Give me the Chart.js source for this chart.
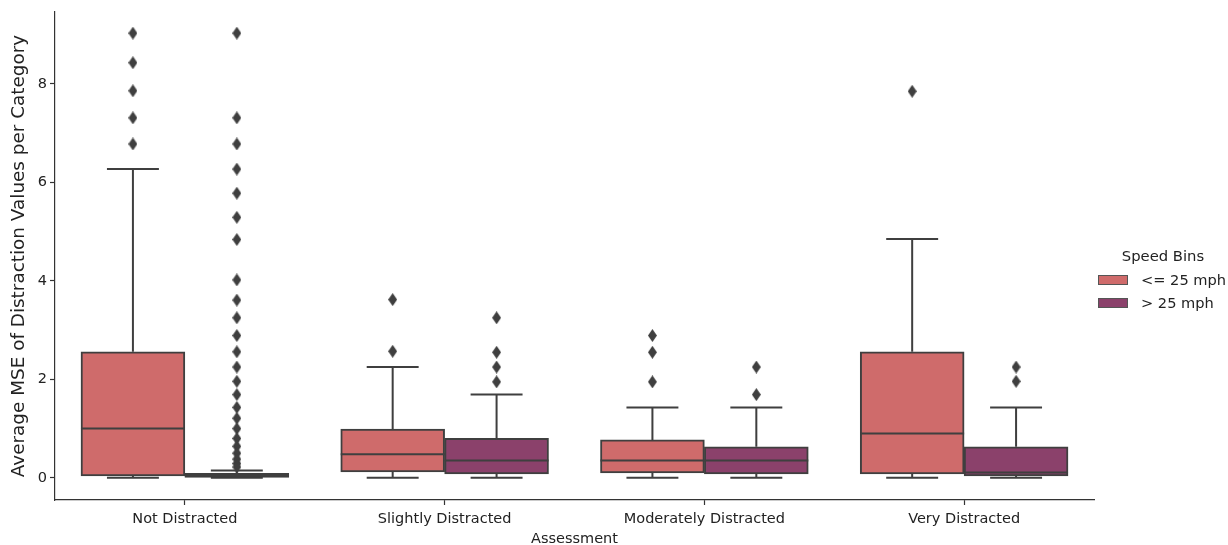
<!DOCTYPE html>
<html>
<head>
<meta charset="utf-8">
<script src="https://cdn.jsdelivr.net/npm/chart.js@4.4.0/dist/chart.umd.min.js"></script>
<style>
  body { margin: 0; background: #fff; }
  #wrap { position: relative; width: 1228px; height: 545px; font-family: "DejaVu Sans", sans-serif; color: #222; }
  #legend { position: absolute; left: 1094px; top: 247px; width: 134px; }
  #legend .title { text-align: center; font-size: 14.8px; padding-left: 4px; margin-bottom: 4px; }
  #legend .item { display: flex; align-items: center; height: 23px; font-size: 14.6px; white-space: nowrap; }
  #legend .swatch { width: 30px; height: 10px; margin: 0 13px 0 4px; border: 1px solid #555; box-sizing: border-box; flex: none; }
</style>
</head>
<body>
<div id="wrap">
  <canvas id="boxChart" width="1228" height="545"></canvas>
  <div id="legend"></div>
</div>
<script>
const categories = ['Not Distracted', 'Slightly Distracted', 'Moderately Distracted', 'Very Distracted'];
const seriesNames = ['<= 25 mph', '> 25 mph'];
const seriesColors = ['#cf6b6b', '#8b416b'];
const yTicks = [0, 2, 4, 6, 8];

// box summaries, one value per category
const slowLow = [0.0, 0.0, 0.0, 0.0];
const slowQ1 = [0.04, 0.12, 0.10, 0.08];
const slowMedian = [1.0, 0.48, 0.35, 0.90];
const slowQ3 = [2.56, 0.99, 0.77, 2.56];
const slowHigh = [6.27, 2.25, 1.43, 4.85];

const fastLow = [0.0, 0.0, 0.0, 0.0];
const fastQ1 = [0.0, 0.08, 0.08, 0.04];
const fastMedian = [0.04, 0.35, 0.35, 0.11];
const fastQ3 = [0.09, 0.80, 0.63, 0.63];
const fastHigh = [0.15, 1.69, 1.43, 1.43];

// fliers
const slowOutliers = [
  [9.03, 8.43, 7.86, 7.31, 6.78],
  [3.62, 2.57],
  [2.89, 2.55, 1.95],
  [7.85]
];
const fastOutliers = [
  [9.03, 7.31, 6.78, 6.27, 5.78, 5.29, 4.84, 4.02, 3.61, 3.25, 2.89, 2.56, 2.25, 1.96, 1.69, 1.43, 1.21, 1.0, 0.80, 0.64, 0.50, 0.38, 0.29, 0.22],
  [3.25, 2.55, 2.25, 1.95],
  [2.25, 1.69],
  [2.25, 1.96]
];

const lineColor = '#3f3f3f';
const fontFamily = '"DejaVu Sans", sans-serif';
const lw = 2;
const hueShift = 0.2;

// thin diamond marker like matplotlib 'd'
const diamond = document.createElement('canvas');
diamond.width = 9;
diamond.height = 13;
const dctx = diamond.getContext('2d');
dctx.fillStyle = lineColor;
dctx.beginPath();
dctx.moveTo(4.5, 0);
dctx.lineTo(9, 6.5);
dctx.lineTo(4.5, 13);
dctx.lineTo(0, 6.5);
dctx.closePath();
dctx.fill();

const summaries = [
  { low: slowLow, med: slowMedian, high: slowHigh, q3: slowQ3, q1: slowQ1 },
  { low: fastLow, med: fastMedian, high: fastHigh, q3: fastQ3, q1: fastQ1 }
];

function flierPoints(list, shift) {
  let pts = [];
  list.forEach((vals, i) => {
    vals.forEach(v => pts.push({ x: i + shift, y: v }));
  });
  return pts;
}

function boxData(q1, q3, shift) {
  return categories.map((c, i) => ({ x: i + shift, y: [q1[i], q3[i]] }));
}

// whiskers, caps and medians, placed with the chart's own scales
const boxParts = {
  id: 'boxParts',
  beforeDatasetsDraw(chart) {
    const ctx = chart.ctx;
    const y = chart.scales.y;
    ctx.save();
    ctx.strokeStyle = lineColor;
    ctx.lineWidth = lw;
    summaries.forEach((s, d) => {
      const meta = chart.getDatasetMeta(d);
      meta.data.forEach((bar, i) => {
        const cx = bar.x;
        const half = bar.width / 4;
        ctx.beginPath();
        ctx.moveTo(cx, y.getPixelForValue(s.q3[i]));
        ctx.lineTo(cx, y.getPixelForValue(s.high[i]));
        ctx.moveTo(cx - half, y.getPixelForValue(s.high[i]));
        ctx.lineTo(cx + half, y.getPixelForValue(s.high[i]));
        ctx.moveTo(cx, y.getPixelForValue(s.q1[i]));
        ctx.lineTo(cx, y.getPixelForValue(s.low[i]));
        ctx.moveTo(cx - half, y.getPixelForValue(s.low[i]));
        ctx.lineTo(cx + half, y.getPixelForValue(s.low[i]));
        ctx.stroke();
      });
    });
    ctx.restore();
  },
  afterDatasetsDraw(chart) {
    const ctx = chart.ctx;
    const y = chart.scales.y;
    ctx.save();
    ctx.strokeStyle = lineColor;
    ctx.lineWidth = lw;
    summaries.forEach((s, d) => {
      const meta = chart.getDatasetMeta(d);
      meta.data.forEach((bar, i) => {
        const py = y.getPixelForValue(s.med[i]);
        ctx.beginPath();
        ctx.moveTo(bar.x - bar.width / 2, py);
        ctx.lineTo(bar.x + bar.width / 2, py);
        ctx.stroke();
      });
    });
    ctx.restore();
  }
};

const ctx = document.getElementById('boxChart');

new Chart(ctx, {
  type: 'bar',
  data: {
    labels: categories,
    datasets: [
      {
        label: seriesNames[0],
        xAxisID: 'xo',
        grouped: false,
        data: boxData(slowQ1, slowQ3, -hueShift),
        backgroundColor: seriesColors[0],
        borderColor: lineColor,
        borderWidth: lw,
        borderSkipped: false,
        categoryPercentage: 1.0,
        barPercentage: 1.0
      },
      {
        label: seriesNames[1],
        xAxisID: 'xo',
        grouped: false,
        data: boxData(fastQ1, fastQ3, hueShift),
        backgroundColor: seriesColors[1],
        borderColor: lineColor,
        borderWidth: lw,
        borderSkipped: false,
        categoryPercentage: 1.0,
        barPercentage: 1.0
      },
      {
        type: 'scatter',
        label: 'slow fliers',
        xAxisID: 'xo',
        data: flierPoints(slowOutliers, -hueShift),
        pointStyle: diamond,
        pointRadius: 5
      },
      {
        type: 'scatter',
        label: 'fast fliers',
        xAxisID: 'xo',
        data: flierPoints(fastOutliers, hueShift),
        pointStyle: diamond,
        pointRadius: 5
      }
    ]
  },
  options: {
    responsive: false,
    animation: false,
    events: [],
    layout: { padding: { top: 12, right: 134, left: 0, bottom: 0 } },
    plugins: {
      legend: { display: false },
      tooltip: { enabled: false }
    },
    scales: {
      x: {
        type: 'category',
        offset: true,
        grid: { display: true, drawOnChartArea: false, offset: false, tickLength: 5, color: '#333', tickWidth: 1.2 },
        border: { display: true, color: '#333', width: 1.2 },
        ticks: { color: '#222', font: { family: fontFamily, size: 14.5 }, padding: 6 },
        title: { display: true, text: 'Assessment', color: '#222', font: { family: fontFamily, size: 14.5 }, padding: { top: 0, bottom: -3 } },
        afterFit(scale) { scale.height = 45; }
      },
      xo: {
        type: 'linear',
        display: false,
        offset: false,
        min: -0.5,
        max: 3.5,
        afterBuildTicks(scale) { scale.ticks = [{ value: -0.5 }, { value: 3.5 }]; }
      },
      y: {
        min: -0.45,
        max: 9.46,
        afterBuildTicks(scale) { scale.ticks = yTicks.map(v => ({ value: v })); },
        grid: { display: true, drawOnChartArea: false, tickLength: 5, color: '#333', tickWidth: 1.2 },
        border: { display: true, color: '#333', width: 1.2 },
        ticks: { color: '#222', font: { family: fontFamily, size: 14.5 }, padding: 3 },
        title: { display: true, text: 'Average MSE of Distraction Values per Category', color: '#222', font: { family: fontFamily, size: 18.4 }, padding: { top: 8, bottom: 0 } },
        afterFit(scale) { scale.width = 55; }
      }
    }
  },
  plugins: [boxParts]
});

// legend on the right
const legendBox = document.getElementById('legend');
let html = '<div class="title">Speed Bins</div>';
seriesNames.forEach((name, i) => {
  html += '<div class="item"><span class="swatch" style="background:' + seriesColors[i] + '"></span>' + name.replace('<', '&lt;').replace('>', '&gt;') + '</div>';
});
legendBox.innerHTML = html;
</script>
</body>
</html>
